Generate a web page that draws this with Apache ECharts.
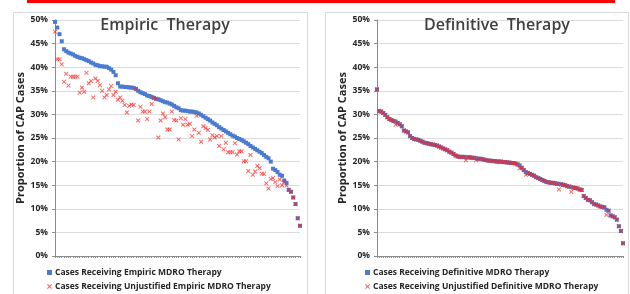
<!DOCTYPE html>
<html>
<head>
    <meta charset="utf-8">
    <title>MDRO Therapy</title>
    <script src="https://cdn.jsdelivr.net/npm/echarts@6/dist/echarts.min.js"></script>
    <style>
        html, body { margin: 0; padding: 0; background: #ffffff; }
        #chart { width: 630px; height: 294px; }
    </style>
</head>
<body>
<div id="chart"></div>
<script>
    // empiric panel (one point per hospital, sorted)
    var empiricAll = [
        49.6, 48.4, 47.0, 45.5, 43.8, 43.4, 43.1, 42.9, 42.7, 42.4,
        42.2, 42.0, 41.9, 41.7, 41.5, 41.3, 41.0, 40.8, 40.5, 40.4,
        40.2, 40.2, 40.1, 40.1, 39.8, 39.5, 39.0, 38.3, 36.6, 35.9,
        35.9, 35.8, 35.8, 35.7, 35.7, 35.6, 35.4, 35.0, 34.7, 34.5,
        34.3, 34.0, 33.9, 33.7, 33.5, 33.3, 33.2, 33.0, 32.8, 32.6,
        32.5, 32.3, 32.1, 31.8, 31.5, 31.3, 30.9, 30.8, 30.8, 30.7,
        30.6, 30.6, 30.5, 30.4, 30.2, 29.9, 29.6, 29.3, 29.0, 28.7,
        28.3, 28.0, 27.7, 27.3, 27.0, 26.7, 26.4, 26.1, 25.8, 25.5,
        25.3, 25.0, 24.8, 24.6, 24.3, 24.0, 23.7, 23.3, 23.0, 22.7,
        22.4, 22.1, 21.8, 21.4, 21.0, 20.7, 20.0, 18.5, 18.2, 17.8,
        17.2, 17.0, 16.0, 15.5, 14.0, 13.6, 12.4, 11.0, 8.0, 6.4
    ];
    var empiricUnjustified = [
        47.5, 41.7, 41.7, 40.6, 36.9, 38.6, 36.1, 38.0, 38.0, 38.0,
        38.0, 34.6, 35.7, 34.8, 38.8, 36.6, 37.1, 33.6, 37.6, 37.1,
        36.2, 35.0, 33.6, 34.1, 35.3, 36.0, 34.1, 34.8, 33.1, 33.6,
        32.9, 32.0, 30.4, 31.8, 32.1, 32.0, 35.4, 28.7, 31.6, 30.6,
        30.6, 29.0, 30.6, 32.2, 33.5, 33.3, 25.1, 28.7, 30.2, 29.4,
        26.8, 26.8, 30.6, 28.8, 28.7, 24.7, 29.2, 27.8, 29.0, 27.8,
        28.0, 25.4, 26.8, 29.7, 26.1, 24.2, 27.5, 27.1, 26.7, 24.7,
        25.6, 25.1, 25.4, 23.3, 25.4, 22.6, 24.0, 22.0, 22.0, 22.0,
        23.9, 21.5, 22.2, 22.2, 20.1, 20.1, 18.0, 21.4, 17.2, 17.9,
        19.1, 18.6, 17.4, 17.4, 15.4, 14.3, 16.3, 16.5, 15.7, 14.8,
        16.2, 15.0, 15.7, 14.9, 14.0, 13.6, 12.4, 11.0, 8.0, 6.4
    ];

    // definitive panel
    var definitiveAll = [
        35.3, 30.7, 30.6, 30.3, 29.9, 29.4, 29.0, 28.8, 28.6, 28.5,
        28.2, 27.9, 27.5, 26.6, 26.4, 26.2, 25.4, 25.0, 24.8, 24.7,
        24.6, 24.4, 24.2, 24.0, 23.9, 23.8, 23.7, 23.6, 23.5, 23.4,
        23.2, 23.0, 22.8, 22.6, 22.4, 22.1, 21.9, 21.6, 21.3, 21.1,
        21.0, 21.0, 21.0, 20.9, 20.9, 20.9, 20.8, 20.8, 20.7, 20.6,
        20.6, 20.5, 20.4, 20.3, 20.2, 20.2, 20.1, 20.1, 20.0, 20.0,
        20.0, 19.9, 19.9, 19.8, 19.8, 19.7, 19.7, 19.6, 19.4, 19.2,
        18.7, 18.2, 17.8, 17.6, 17.4, 17.2, 17.0, 16.7, 16.5, 16.3,
        16.1, 15.9, 15.7, 15.6, 15.5, 15.5, 15.4, 15.3, 15.3, 15.2,
        15.1, 15.0, 14.8, 14.7, 14.6, 14.5, 14.4, 14.3, 14.1, 14.0,
        12.7, 12.3, 11.9, 11.8, 11.4, 11.0, 10.9, 10.7, 10.5, 10.4,
        10.3, 9.8, 9.6, 8.6, 8.4, 8.2, 7.7, 6.3, 5.3, 2.7
    ];
    var definitiveUnjustified = [
        35.3, 30.7, 30.6, 30.3, 29.9, 29.4, 29.0, 28.8, 28.6, 27.8,
        28.2, 27.9, 27.5, 26.6, 26.4, 26.2, 25.4, 25.0, 24.8, 24.7,
        24.6, 24.4, 24.2, 24.0, 23.9, 23.8, 23.7, 23.6, 23.5, 23.4,
        23.2, 23.0, 22.8, 22.6, 22.4, 22.1, 21.9, 21.6, 21.3, 21.1,
        21.0, 21.0, 21.0, 20.3, 20.9, 20.9, 20.8, 20.8, 20.3, 20.6,
        20.6, 20.5, 20.4, 20.3, 20.2, 20.2, 20.1, 20.1, 20.0, 20.0,
        20.0, 19.9, 19.9, 19.8, 19.8, 19.7, 19.7, 19.6, 19.4, 18.6,
        18.7, 18.2, 17.2, 17.6, 17.4, 17.2, 17.0, 16.7, 16.5, 16.3,
        16.1, 15.9, 15.7, 15.6, 15.5, 15.5, 15.4, 15.3, 14.1, 15.2,
        15.1, 15.0, 14.8, 14.7, 13.6, 14.5, 14.4, 14.3, 14.1, 14.0,
        12.7, 12.3, 11.9, 11.8, 11.4, 11.0, 10.9, 10.7, 10.5, 10.4,
        10.3, 8.7, 9.6, 8.6, 8.4, 8.2, 7.7, 6.3, 5.3, 2.7
    ];

    var yTicks = [0, 50, 5];   // min, max, step
    var panelTitles = ['Empiric  Therapy', 'Definitive  Therapy'];
    var seriesNames = [
        'Cases Receiving Empiric MDRO Therapy',
        'Cases Receiving Unjustified Empiric MDRO Therapy',
        'Cases Receiving Definitive MDRO Therapy',
        'Cases Receiving Unjustified Definitive MDRO Therapy'
    ];
    var yName = 'Proportion of CAP Cases';

    var empiricCases = empiricAll.map(function (v, i) { return String(i + 1); });
    var definitiveCases = definitiveAll.map(function (v, i) { return String(i + 1); });

    var BLUE = '#4a7bd0';
    var RED = '#ff2020';
    var CROSS = 'path://M0,1.5L1.5,0L5,3.5L8.5,0L10,1.5L6.5,5L10,8.5L8.5,10L5,6.5L1.5,10L0,8.5L3.5,5Z';
    var FONT = 'Open Sans';

    function xAxisFor(idx, cats) {
        return {
            type: 'category', gridIndex: idx, data: cats, boundaryGap: false,
            axisLine: { lineStyle: { color: '#8c8c8c', width: 1 } },
            axisTick: { show: true, interval: 0, length: 2, lineStyle: { color: '#8c8c8c' } },
            axisLabel: { show: false },
            splitLine: { show: false }
        };
    }
    function yAxisFor(idx) {
        return {
            type: 'value', gridIndex: idx, min: yTicks[0], max: yTicks[1], interval: yTicks[2],
            name: yName, nameLocation: 'middle', nameGap: 28,
            nameTextStyle: { fontFamily: FONT, fontWeight: 'bold', fontSize: 11, color: '#262626' },
            axisLine: { show: true, lineStyle: { color: '#8c8c8c' } },
            axisTick: { show: true, length: 3, lineStyle: { color: '#8c8c8c' } },
            axisLabel: { formatter: '{value}%', fontFamily: FONT, fontWeight: 'bold', fontSize: 8.5, color: '#262626', margin: 7 },
            splitLine: { lineStyle: { color: '#dcdcdc', width: 1 } }
        };
    }
    function scatterFor(name, idx, data, isCross) {
        return {
            name: name, type: 'scatter', xAxisIndex: idx, yAxisIndex: idx, data: data,
            symbol: isCross ? CROSS : 'rect', symbolSize: isCross ? 4.5 : 4,
            itemStyle: { color: isCross ? RED : BLUE, opacity: isCross ? 0.7 : 1 },
            z: isCross ? 3 : 2,
            silent: true, animation: false
        };
    }

    var chart = echarts.init(document.getElementById('chart'), null, { renderer: 'canvas' });
    var option = {
        backgroundColor: '#ffffff',
        animation: false,
        title: [
            { text: panelTitles[0], left: 165, top: 17, textAlign: 'center', padding: 0,
              textStyle: { fontFamily: FONT, fontSize: 16, fontWeight: 600, color: '#404040' } },
            { text: panelTitles[1], left: 497, top: 17, textAlign: 'center', padding: 0,
              textStyle: { fontFamily: FONT, fontSize: 16, fontWeight: 600, color: '#404040' } }
        ],
        grid: [
            { left: 55, right: 330, top: 20, bottom: 38 },
            { left: 377, right: 7, top: 20, bottom: 38 }
        ],
        legend: [
            { data: [seriesNames[0], seriesNames[1]], orient: 'vertical', left: 47, top: 268,
              itemWidth: 5, itemHeight: 5, itemGap: 5, padding: 0, selectedMode: false,
              textStyle: { fontFamily: FONT, fontWeight: 'bold', fontSize: 8.5, color: '#262626', padding: [0, 0, 0, -2] } },
            { data: [seriesNames[2], seriesNames[3]], orient: 'vertical', left: 365, top: 268,
              itemWidth: 5, itemHeight: 5, itemGap: 5, padding: 0, selectedMode: false,
              textStyle: { fontFamily: FONT, fontWeight: 'bold', fontSize: 8.5, color: '#262626', padding: [0, 0, 0, -2] } }
        ],
        xAxis: [xAxisFor(0, empiricCases), xAxisFor(1, definitiveCases)],
        yAxis: [yAxisFor(0), yAxisFor(1)],
        series: [
            scatterFor(seriesNames[0], 0, empiricAll, false),
            scatterFor(seriesNames[1], 0, empiricUnjustified, true),
            scatterFor(seriesNames[2], 1, definitiveAll, false),
            scatterFor(seriesNames[3], 1, definitiveUnjustified, true)
        ],
        graphic: [
            { type: 'rect', shape: { x: 27, y: 0, width: 588, height: 3 }, style: { fill: '#ff0000' }, silent: true },
            { type: 'rect', shape: { x: 13.5, y: 12.5, width: 294, height: 290 }, style: { fill: null, stroke: '#d9d9d9', lineWidth: 1 }, silent: true, z: -1 },
            { type: 'rect', shape: { x: 325.5, y: 12.5, width: 303, height: 290 }, style: { fill: null, stroke: '#d9d9d9', lineWidth: 1 }, silent: true, z: -1 }
        ]
    };
    chart.setOption(option);

    window.onresize = function () {
        chart.resize();
    };
</script>
</body>
</html>
